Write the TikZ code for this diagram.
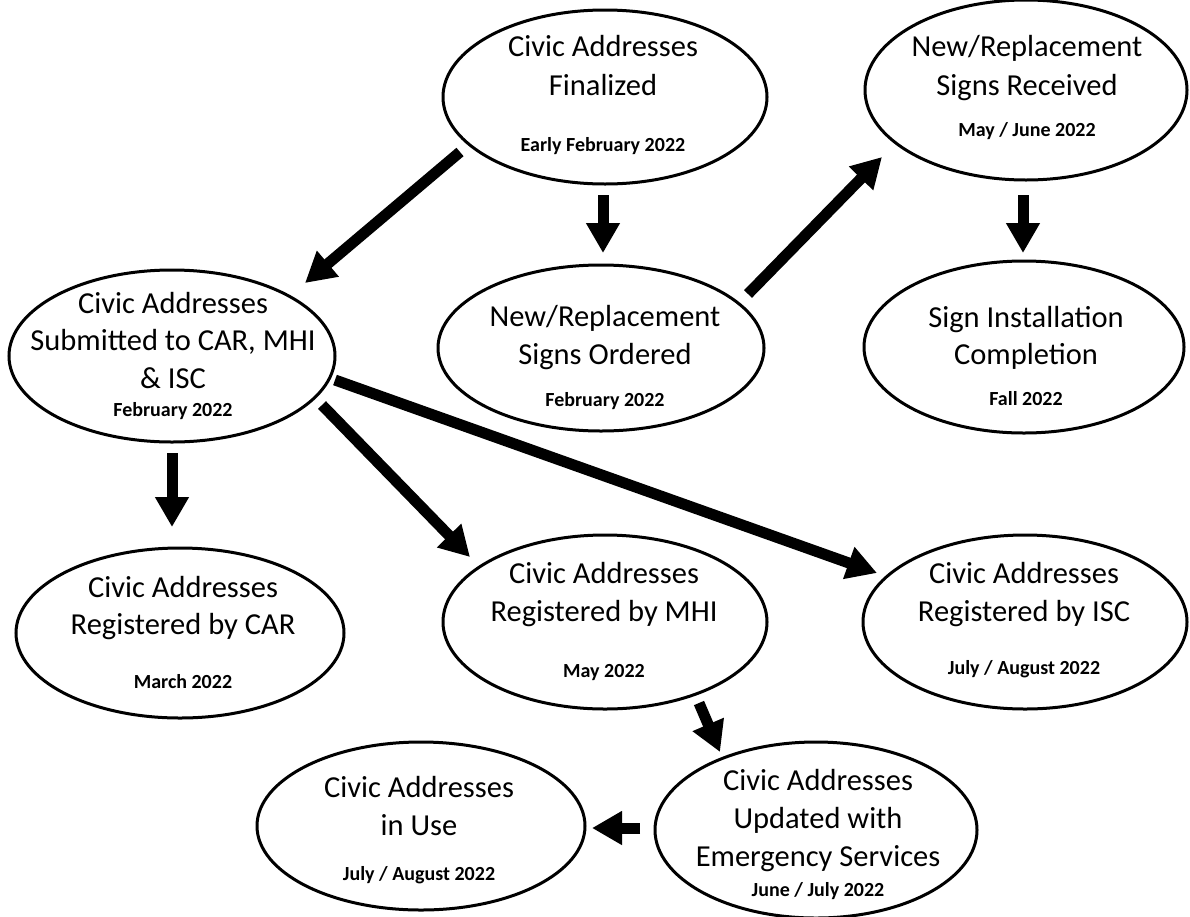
\documentclass[tikz,border=0pt]{standalone}
\usepackage{fontspec}
\setmainfont{Carlito}
\usetikzlibrary{arrows.meta,shapes.geometric}
\begin{document}
\begin{tikzpicture}[x=1pt,y=-1pt,
  ell/.style={draw, ellipse, line width=3pt, inner sep=0pt},
  ttl/.style={anchor=base, inner sep=0pt, font=\fontsize{30.5}{37}\selectfont},
  dte/.style={anchor=base, inner sep=0pt, font=\bfseries\fontsize{20}{24}\selectfont},
  arr/.style={line width=11pt, -{Triangle[length=30pt,width=32pt]}}]
\useasboundingbox (0,0) rectangle (1190,916);

% ellipses
\node[ell, minimum width=324pt, minimum height=174pt] (fin) at (605,97) {};
\node[ell, minimum width=322pt, minimum height=180pt] (rec) at (1026,90) {};
\node[ell, minimum width=326pt, minimum height=166pt] (ord) at (601,348) {};
\node[ell, minimum width=320pt, minimum height=172pt] (ins) at (1024,347) {};
\node[ell, minimum width=326pt, minimum height=172pt] (sub) at (172,356) {};
\node[ell, minimum width=328pt, minimum height=170pt] (car) at (180,633) {};
\node[ell, minimum width=324pt, minimum height=174pt] (mhi) at (605,622) {};
\node[ell, minimum width=324pt, minimum height=174pt] (isc) at (1025,622) {};
\node[ell, minimum width=322pt, minimum height=176pt] (upd) at (816,830) {};
\node[ell, minimum width=328pt, minimum height=168pt] (use) at (421,826) {};

% texts
\node[ttl] (fin-a) at (603,56) {Civic Addresses};
\node[ttl] (fin-b) at (603,95) {Finalized};
\node[dte] (fin-c) at (603,151) {Early February 2022};

\node[ttl] (rec-a) at (1027,56) {New/Replacement};
\node[ttl] (rec-b) at (1027,95) {Signs Received};
\node[dte] (rec-c) at (1027,136) {May / June 2022};

\node[ttl] (ord-a) at (605,326) {New/Replacement};
\node[ttl] (ord-b) at (605,364) {Signs Ordered};
\node[dte] (ord-c) at (605,406) {February 2022};

\node[ttl] (ins-a) at (1026,327) {Sign Installation};
\node[ttl] (ins-b) at (1026,364) {Completion};
\node[dte] (ins-c) at (1026,405) {Fall 2022};

\node[ttl] (sub-a) at (173,313) {Civic Addresses};
\node[ttl] (sub-b) at (173,350) {Submitted to CAR, MHI};
\node[ttl] (sub-c) at (173,388) {\& ISC};
\node[dte] (sub-d) at (173,416) {February 2022};

\node[ttl] (car-a) at (183,597) {Civic Addresses};
\node[ttl] (car-b) at (183,634) {Registered by CAR};
\node[dte] (car-c) at (183,688) {March 2022};

\node[ttl] (mhi-a) at (604,583) {Civic Addresses};
\node[ttl] (mhi-b) at (604,621) {Registered by MHI};
\node[dte] (mhi-c) at (604,677) {May 2022};

\node[ttl] (isc-a) at (1024,583) {Civic Addresses};
\node[ttl] (isc-b) at (1024,621) {Registered by ISC};
\node[dte] (isc-c) at (1024,674) {July / August 2022};

\node[ttl] (upd-a) at (818,790) {Civic Addresses};
\node[ttl] (upd-b) at (818,828) {Updated with};
\node[ttl] (upd-c) at (818,866) {Emergency Services};
\node[dte] (upd-d) at (818,896) {June / July 2022};

\node[ttl] (use-a) at (419,797) {Civic Addresses};
\node[ttl] (use-b) at (419,835) {in Use};
\node[dte] (use-c) at (419,880) {July / August 2022};

% arrow ends
\coordinate (a1s) at (460,152);  \coordinate (a1e) at (305,283);
\coordinate (a2s) at (603,195);  \coordinate (a2e) at (603,253);
\coordinate (a3s) at (748,294);  \coordinate (a3e) at (882,157);
\coordinate (a4s) at (1023,195); \coordinate (a4e) at (1023,253);
\coordinate (a5s) at (172,453);  \coordinate (a5e) at (172,527);
\coordinate (a6s) at (322,405);  \coordinate (a6e) at (470,557);
\coordinate (a7s) at (335,380);  \coordinate (a7e) at (877,573);
\coordinate (a8s) at (699,703);  \coordinate (a8e) at (720,752);
\coordinate (a9s) at (640,828);  \coordinate (a9e) at (592,828);

\draw[arr] (a1s) -- (a1e);
\draw[arr] (a2s) -- (a2e);
\draw[arr] (a3s) -- (a3e);
\draw[arr] (a4s) -- (a4e);
\draw[arr] (a5s) -- (a5e);
\draw[arr] (a6s) -- (a6e);
\draw[arr] (a7s) -- (a7e);
\draw[arr] (a8s) -- (a8e);
\draw[arr] (a9s) -- (a9e);
\end{tikzpicture}
\end{document}
